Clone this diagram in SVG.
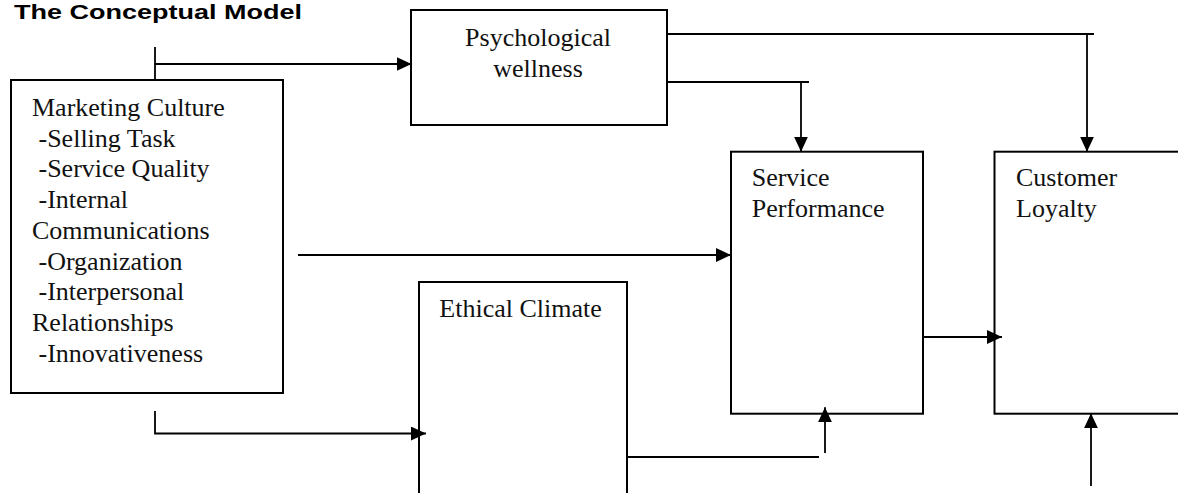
<svg xmlns="http://www.w3.org/2000/svg" width="1178" height="493" viewBox="0 0 1178 493">
  <style>
    .box { fill: #fff; stroke: #000; stroke-width: 2; }
    .lbl { font-family: "Liberation Serif", "Times New Roman", serif; font-size: 26px; fill: #111; }
    .con { fill: none; stroke: #000; stroke-width: 1.8; }
    .title { font-family: "Liberation Sans", Arial, sans-serif; font-weight: 700; font-size: 20px; fill: #000; }
  </style>
  <defs>
    <marker id="ah" markerUnits="userSpaceOnUse" markerWidth="15" markerHeight="14" viewBox="0 0 15 14" refX="15" refY="7" orient="auto">
      <path d="M0,0 L15,7 L0,14 Z" fill="#000"/>
    </marker>
  </defs>
  <rect width="1178" height="493" fill="#fff"/>
  <text class="title" x="14" y="19" textLength="288" lengthAdjust="spacingAndGlyphs">The Conceptual Model</text>

  <g id="node-marketing-culture">
    <rect class="box" x="11" y="80" width="272" height="313"/>
    <text class="lbl" x="32" y="115.7">Marketing Culture</text>
    <text class="lbl" x="38.5" y="146.5">-Selling Task</text>
    <text class="lbl" x="38.5" y="177.2">-Service Quality</text>
    <text class="lbl" x="38.5" y="208">-Internal</text>
    <text class="lbl" x="32" y="238.7">Communications</text>
    <text class="lbl" x="38.5" y="269.5">-Organization</text>
    <text class="lbl" x="38.5" y="300.2">-Interpersonal</text>
    <text class="lbl" x="32" y="331">Relationships</text>
    <text class="lbl" x="38.5" y="361.7">-Innovativeness</text>
  </g>

  <g id="node-psychological-wellness">
    <rect class="box" x="411" y="10" width="256" height="115"/>
    <text class="lbl" x="538" y="45.7" text-anchor="middle">Psychological</text>
    <text class="lbl" x="538" y="76.7" text-anchor="middle">wellness</text>
  </g>

  <g id="node-service-performance">
    <rect class="box" x="731" y="151.7" width="192" height="262"/>
    <text class="lbl" x="751.7" y="185.7">Service</text>
    <text class="lbl" x="751.7" y="216.7">Performance</text>
  </g>

  <g id="node-customer-loyalty">
    <rect class="box" x="994.5" y="151.7" width="200" height="262"/>
    <text class="lbl" x="1016" y="185.7">Customer</text>
    <text class="lbl" x="1016" y="216.7">Loyalty</text>
  </g>

  <g id="node-ethical-climate">
    <rect class="box" x="419" y="282" width="208" height="240"/>
    <text class="lbl" x="439.3" y="317.3">Ethical Climate</text>
  </g>

  <g id="connectors">
    <path class="con" d="M155,47 V80"/>
    <path class="con" d="M155,64 H411.5" marker-end="url(#ah)"/>
    <path class="con" d="M667,34 H1094"/>
    <path class="con" d="M1087,34 V151.7" marker-end="url(#ah)"/>
    <path class="con" d="M667,82 H809"/>
    <path class="con" d="M801,82 V151.7" marker-end="url(#ah)"/>
    <path class="con" d="M298,255 H731" marker-end="url(#ah)"/>
    <path class="con" d="M923,337 H1002" marker-end="url(#ah)"/>
    <path class="con" d="M155,411 V433.5 H426" marker-end="url(#ah)"/>
    <path class="con" d="M627,457 H819"/>
    <path class="con" d="M825,453 V407.3" marker-end="url(#ah)"/>
    <path class="con" d="M1091,486 V413.3" marker-end="url(#ah)"/>
  </g>
</svg>
